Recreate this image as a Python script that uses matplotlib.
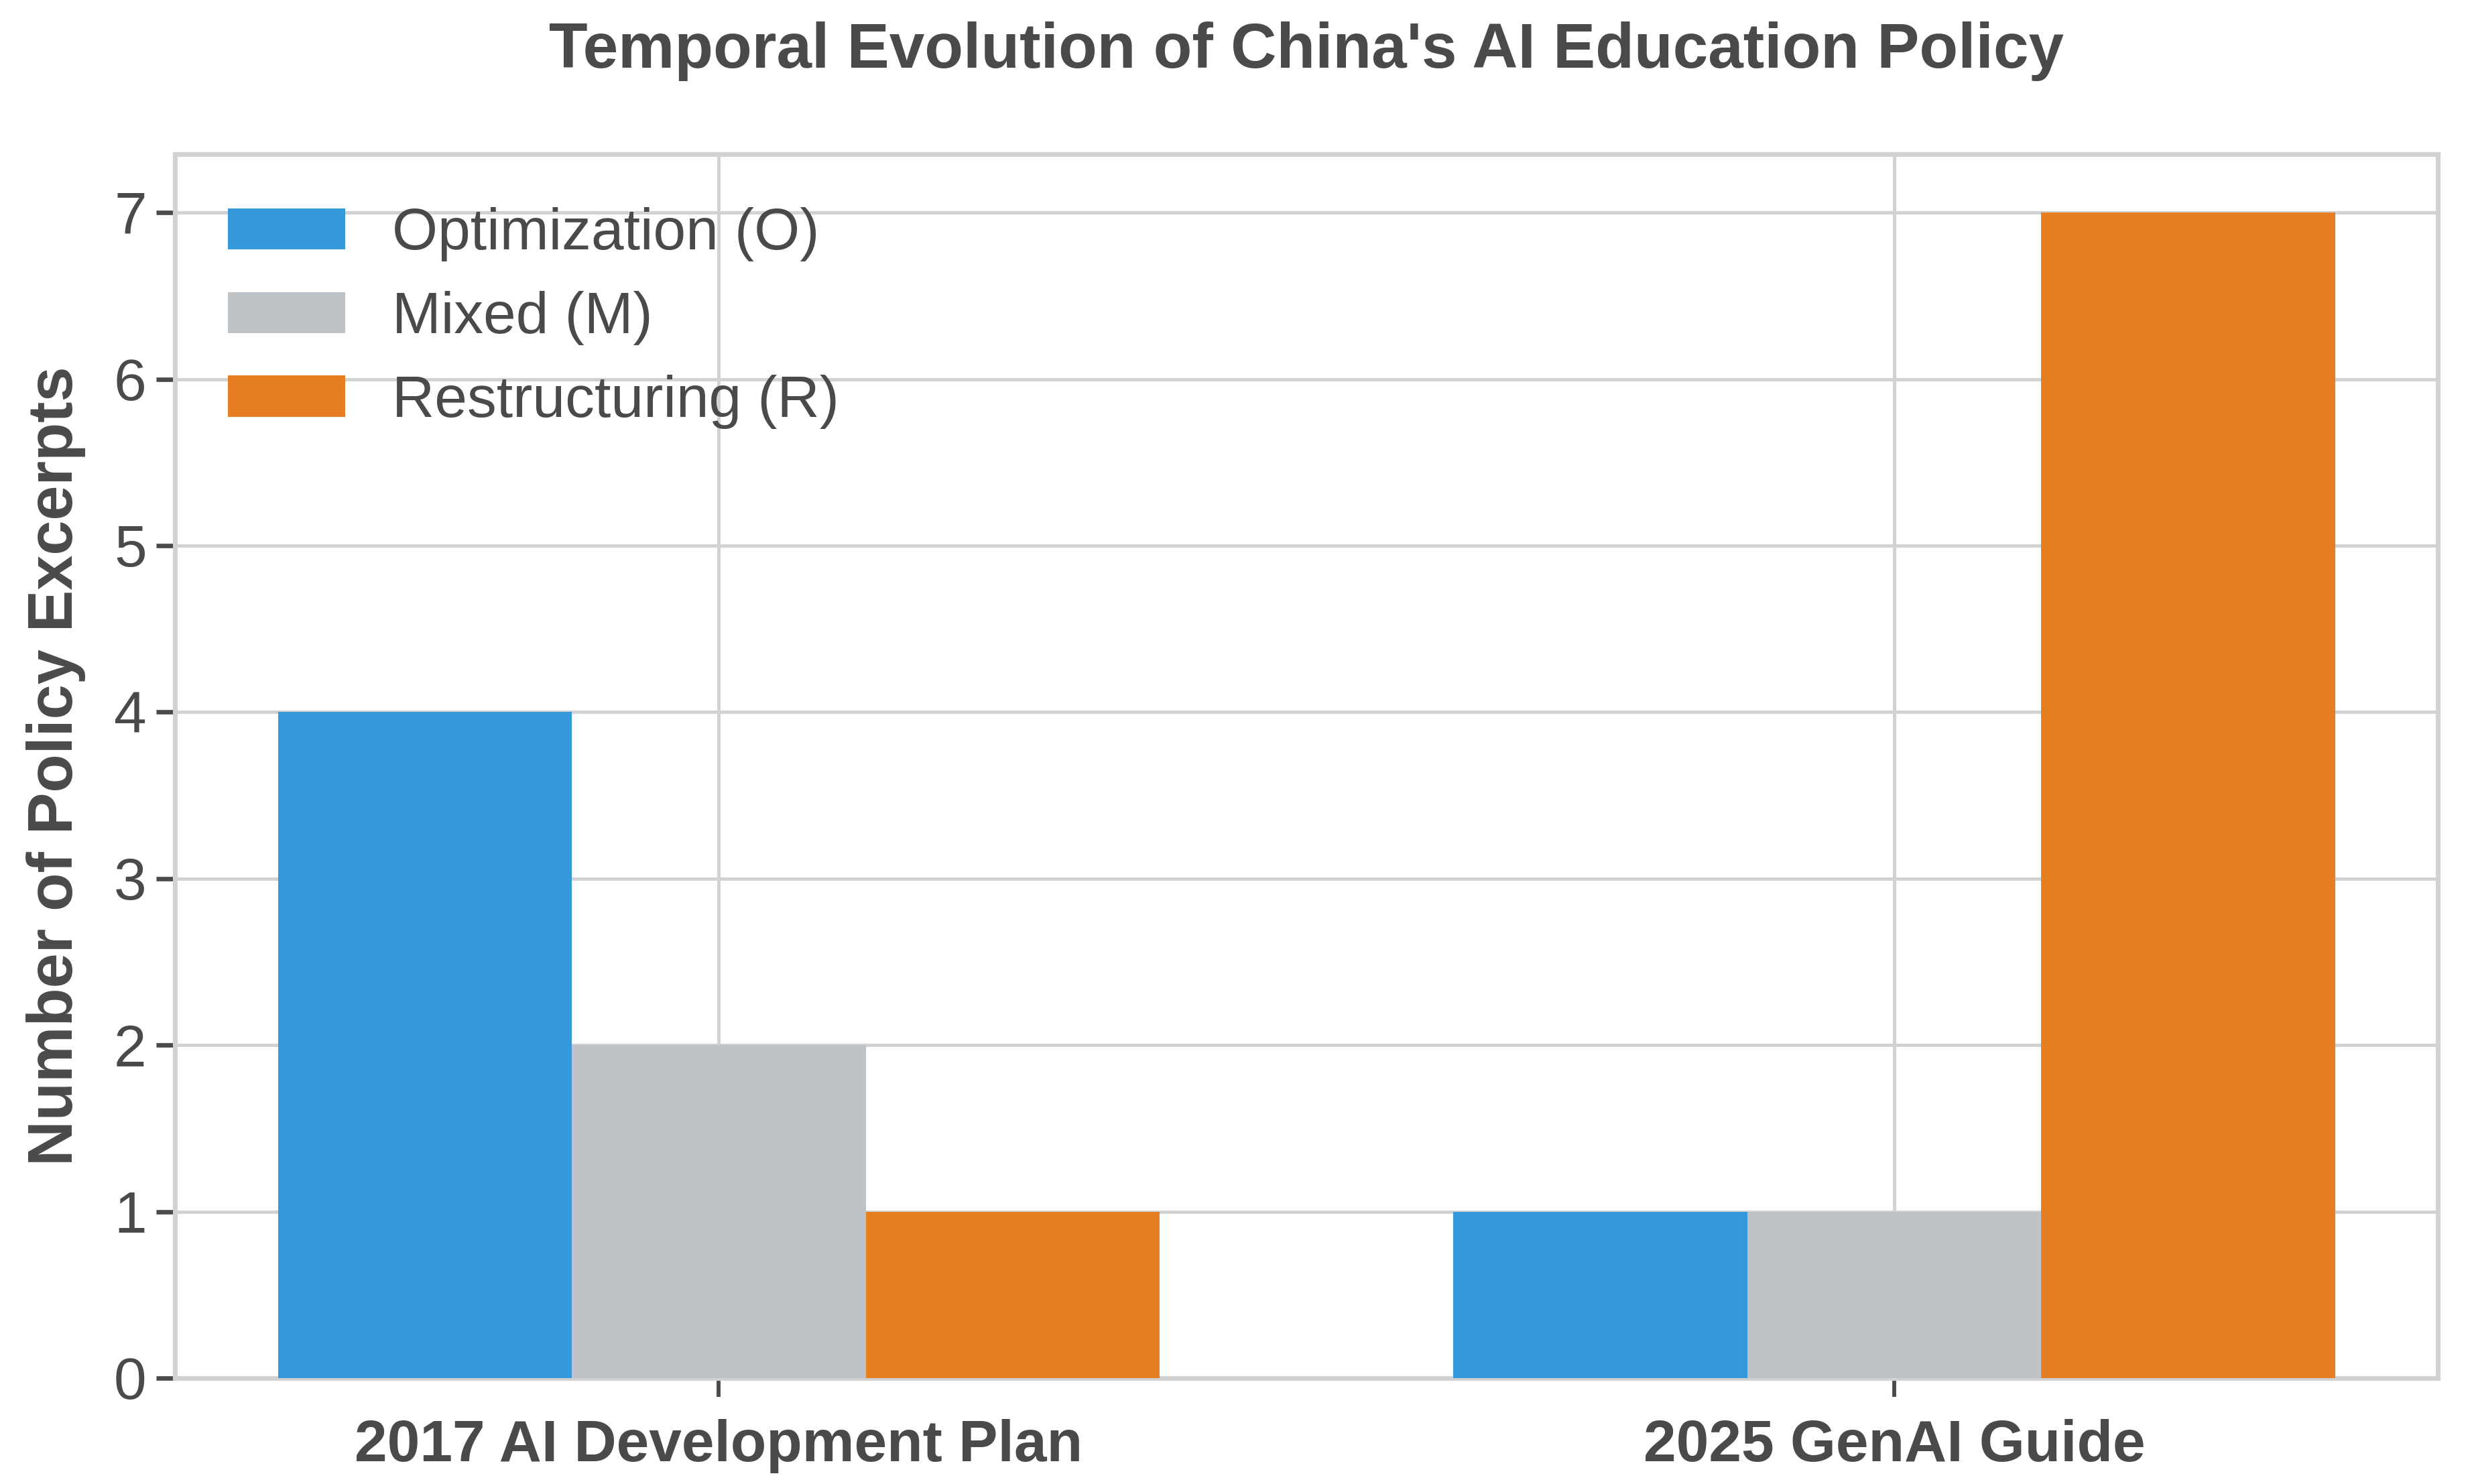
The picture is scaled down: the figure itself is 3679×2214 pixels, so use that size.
import matplotlib
matplotlib.use("Agg")
import matplotlib.pyplot as plt
import numpy as np

categories = ["2017 AI Development Plan", "2025 GenAI Guide"]
series_names = ["Optimization (O)", "Mixed (M)", "Restructuring (R)"]
optimization = [4, 1]
mixed = [2, 1]
restructuring = [1, 7]
colors = ["#3498db", "#bdc3c7", "#e67e22"]

text_color = "#4a4a4c"
line_color = "#d1d2d3"

plt.rcParams["font.family"] = ["Liberation Sans", "DejaVu Sans"]
plt.rcParams["text.color"] = text_color
plt.rcParams["axes.labelcolor"] = text_color
plt.rcParams["xtick.color"] = text_color
plt.rcParams["ytick.color"] = text_color

fig = plt.figure(figsize=(3679 / 300, 2214 / 300), dpi=300)
ax = fig.add_axes([0.071, 0.0714, 0.9176, 0.8246])

x = np.arange(len(categories))
width = 0.25
for i, (vals, name, c) in enumerate(zip([optimization, mixed, restructuring], series_names, colors)):
    ax.bar(x + (i - 1) * width, vals, width, label=name, color=c, zorder=3)

ax.set_xticks(x)
ax.set_xticklabels(categories, fontsize=21, fontweight="bold")
ax.tick_params(axis="y", labelsize=21, length=6.7, width=1.6, color=text_color)
ax.tick_params(axis="x", length=6.7, width=1.4, color=text_color, pad=8)
ax.set_yticks(range(0, 8))
ax.set_ylabel("Number of Policy Excerpts", fontsize=22.5, fontweight="bold", labelpad=10)
ax.set_title("Temporal Evolution of China's AI Education Policy", fontsize=22.7, fontweight="bold", pad=31)

ax.grid(True, color=line_color, linewidth=1.2, zorder=0)
ax.set_axisbelow(True)
for s in ax.spines.values():
    s.set_color(line_color)
    s.set_linewidth(1.7)

ax.legend(loc="upper left", frameon=False, fontsize=21)

fig.savefig("out.png", dpi=300)
